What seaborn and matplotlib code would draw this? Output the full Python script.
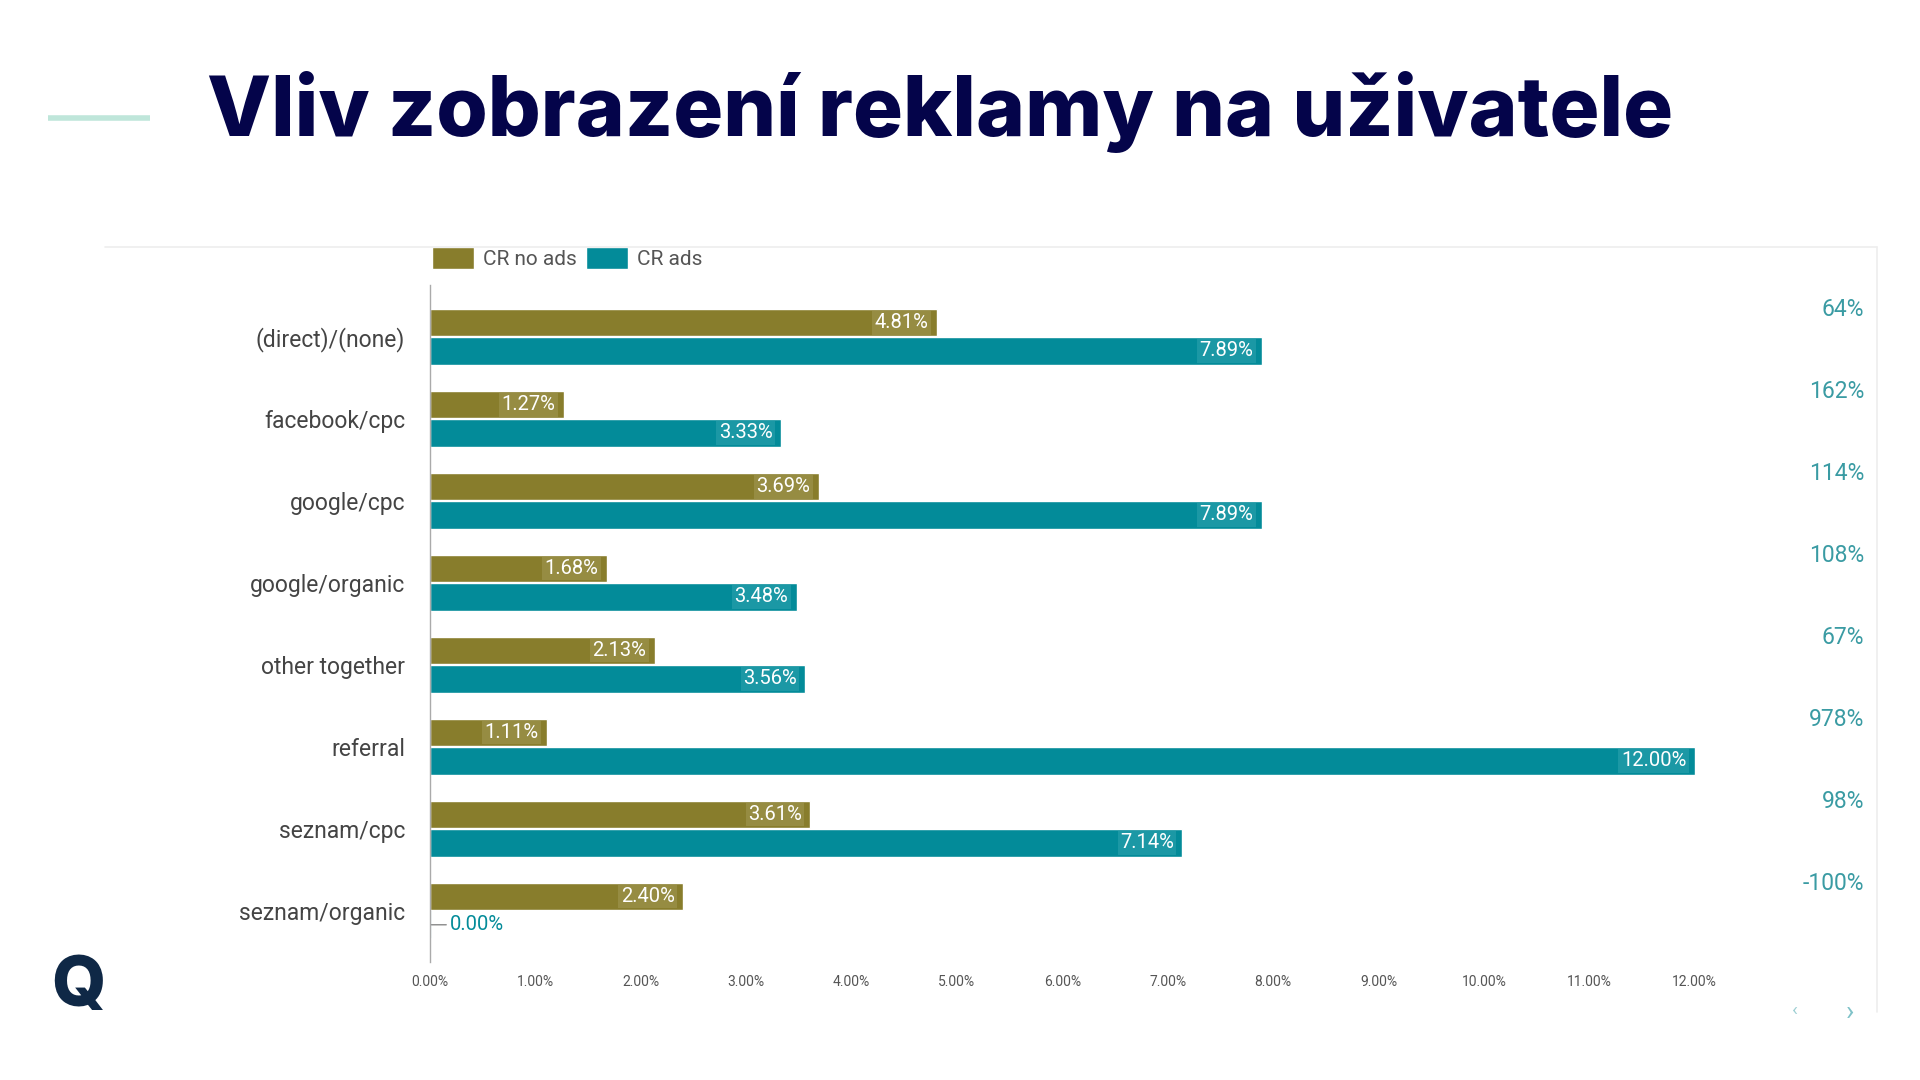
import pandas as pd
import matplotlib.pyplot as plt
import matplotlib.transforms as mtransforms
from matplotlib.lines import Line2D
import seaborn as sns

# values (conversion rate in %)
sources = ['(direct)/(none)', 'facebook/cpc', 'google/cpc', 'google/organic',
           'other together', 'referral', 'seznam/cpc', 'seznam/organic']
cr_no_ads = [4.81, 1.27, 3.69, 1.68, 2.13, 1.11, 3.61, 2.40]
cr_ads = [7.89, 3.33, 7.89, 3.48, 3.56, 12.00, 7.14, 0.00]
uplift = ['64%', '162%', '114%', '108%', '67%', '978%', '98%', '-100%']
x_ticks = [0, 1, 2, 3, 4, 5, 6, 7, 8, 9, 10, 11, 12]

OLIVE = '#887d2c'
TEAL = '#038b99'
OLIVE_LBL = '#968c42'
TEAL_LBL = '#1b98a5'
NAVY = '#04044a'


def build_frame():
    rows = []
    for src, a, b in zip(sources, cr_no_ads, cr_ads):
        rows.append({'source': src, 'series': 'CR no ads', 'cr': a})
        rows.append({'source': src, 'series': 'CR ads', 'cr': b})
    return pd.DataFrame(rows)


def draw_chart():
    df = build_frame()
    sns.set_style('white')
    plt.rcParams['font.family'] = ['Roboto', 'DejaVu Sans']

    fig = plt.figure(figsize=(19.2, 10.8), dpi=100)
    ax = fig.add_axes([0.224, 0.109, 0.7135, 0.627])

    sns.barplot(data=df, y='source', x='cr', hue='series', orient='h',
                palette={'CR no ads': OLIVE, 'CR ads': TEAL},
                width=0.69, gap=0.03, ax=ax, saturation=1)

    ax.set_xlim(0, 13.0)
    ax.set_ylim(7.63, -0.63)
    ax.set_xticks(x_ticks)
    ax.set_xticklabels([f'{t:.2f}%' for t in x_ticks], fontsize=10, color='#555555')
    ax.tick_params(axis='x', length=0, pad=9)
    ax.tick_params(axis='y', length=0, pad=18)
    ax.set_yticks(range(len(sources)))
    ax.set_yticklabels(sources, fontsize=16.5, color='#444444')
    ax.set_xlabel('')
    ax.set_ylabel('')
    for side in ['top', 'right', 'bottom']:
        ax.spines[side].set_visible(False)
    ax.spines['left'].set_color('#aaaaaa')
    ax.spines['left'].set_linewidth(1)

    # labels at the end of each bar
    for cont, lbl_col, bar_col in zip(ax.containers, [OLIVE_LBL, TEAL_LBL], [OLIVE, TEAL]):
        for rect in cont:
            val = rect.get_width()
            yc = rect.get_y() + rect.get_height() / 2
            if val > 0:
                ax.text(val - 0.08, yc, f'{val:.2f}%', ha='right', va='center',
                        fontsize=14.5, color='white',
                        bbox=dict(boxstyle='square,pad=0.12', fc=lbl_col, ec='none'))
            else:
                ax.plot([0, 0], [rect.get_y(), rect.get_y() + rect.get_height()],
                        color=bar_col, lw=1.5)
                ax.annotate(f'{val:.2f}%', xy=(0, yc), xytext=(14, 0),
                            textcoords='offset points', ha='left', va='center',
                            fontsize=14.5, color=TEAL,
                            arrowprops=dict(arrowstyle='-', color='#888888', lw=1,
                                            shrinkA=0, shrinkB=1))

    # uplift column on the right
    trans = mtransforms.blended_transform_factory(ax.transAxes, ax.transData)
    for i, txt in enumerate(uplift):
        ax.text(1.047, i - 0.33, txt, transform=trans, ha='right', va='center',
                fontsize=16.5, color='#3a9ba3')

    sns.move_legend(ax, 'lower left', bbox_to_anchor=(0.0, 1.02), ncol=2,
                    frameon=False, title=None, fontsize=15, handlelength=2.0,
                    handleheight=1.3, columnspacing=0.45, handletextpad=0.45,
                    borderaxespad=0, borderpad=0.1)
    for t in ax.get_legend().get_texts():
        t.set_color('#555555')

    # slide frame lines
    fig.add_artist(Line2D([105 / 1920, 1877 / 1920], [1 - 247 / 1080, 1 - 247 / 1080],
                          color='#eeeeee', lw=1.2))
    fig.add_artist(Line2D([1877 / 1920, 1877 / 1920], [1 - 247 / 1080, 1 - 1012 / 1080],
                          color='#eeeeee', lw=1.2))

    # title and accent line
    fig.add_artist(Line2D([48 / 1920, 150 / 1920], [1 - 118 / 1080, 1 - 118 / 1080],
                          color='#bfe6da', lw=4, solid_capstyle='butt'))
    fig.text(207 / 1920, 1 - 112 / 1080, 'Vliv zobrazení reklamy na uživatele',
             fontsize=60, fontweight='heavy', color=NAVY, ha='left', va='center',
             family=['Inter', 'DejaVu Sans'])

    # logo and slide nav marks
    fig.text(78 / 1920, 1 - 988 / 1080, 'Q', fontsize=50, fontweight='heavy',
             color='#0f2846', ha='center', va='center', family=['Inter', 'DejaVu Sans'])
    fig.text(1795 / 1920, 1 - 1010 / 1080, '‹', fontsize=14, color='#9fd0d4',
             ha='center', va='center')
    fig.text(1850 / 1920, 1 - 1012 / 1080, '›', fontsize=20, color='#7fc2c8',
             ha='center', va='center')

    fig.savefig('out.png', dpi=100, facecolor='white')


if __name__ == '__main__':
    draw_chart()
